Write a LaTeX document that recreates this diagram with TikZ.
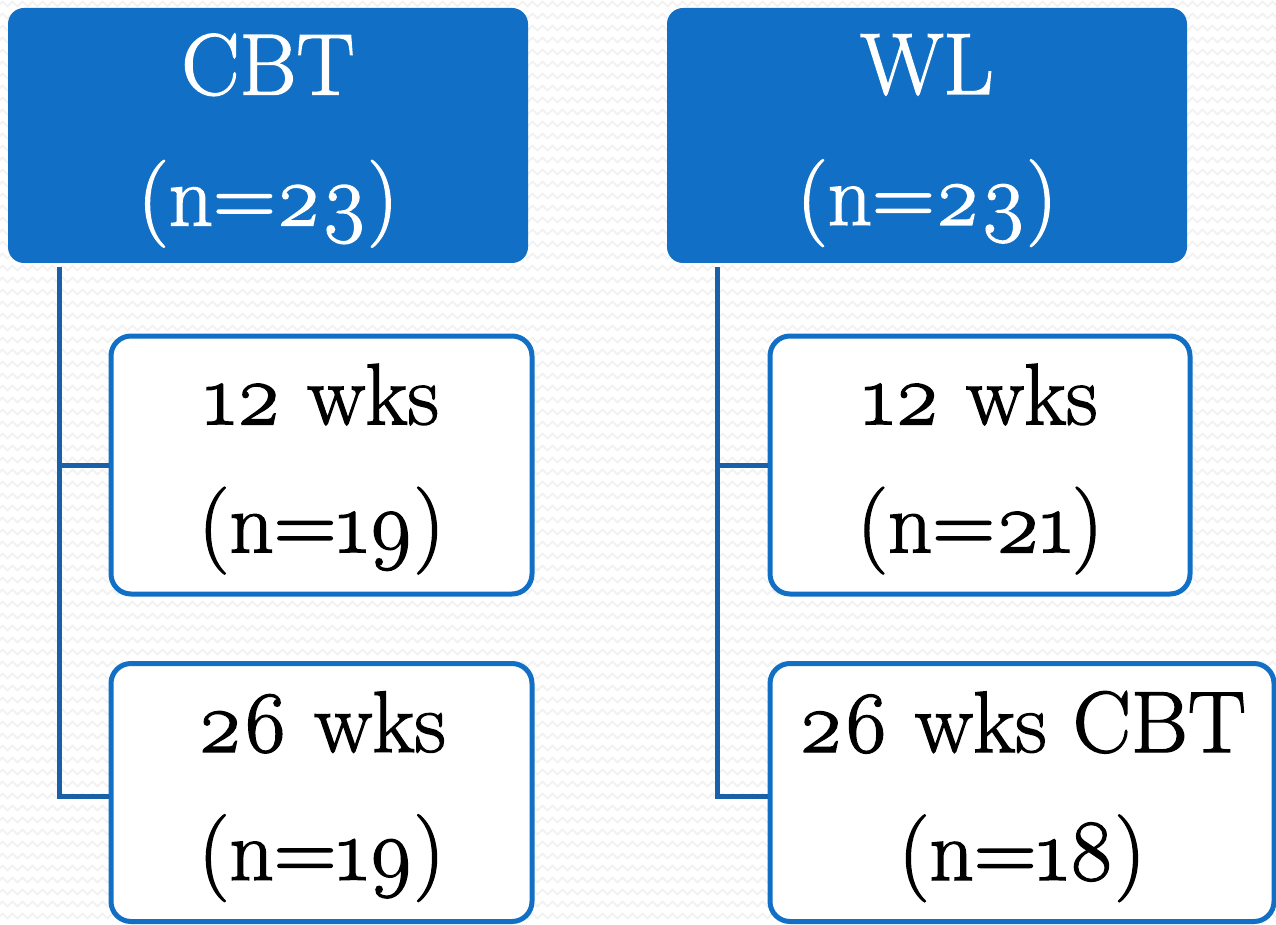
\documentclass[tikz,border=0pt]{standalone}
\usepackage{fontspec}
\setmainfont{Latin Modern Roman}[Numbers=OldStyle]
\newfontfamily\boxfont{Latin Modern Roman}[Numbers=OldStyle, FakeBold=1.6]
\usetikzlibrary{decorations.pathmorphing}
\definecolor{boxblue}{HTML}{1170C5}
\definecolor{linkblue}{HTML}{1A60A8}
\definecolor{bgline}{HTML}{F1F1F1}
\tikzset{
  headbox/.style={draw=none, fill=boxblue, rounded corners=16pt,
    minimum width=520pt, minimum height=255pt, inner sep=0pt,
    label={[text=white, align=center, yshift=-5pt, font=\boxfont\fontsize{87}{131}\selectfont]center:{#1}}},
  childbox/.style={draw=boxblue, line width=5pt, fill=white, rounded corners=20pt,
    minimum height=258pt, inner sep=0pt,
    label={[text=black, align=center, yshift=-4pt, font=\boxfont\fontsize{87}{128}\selectfont]center:{#1}}},
  conn/.style={draw=linkblue, line width=5pt}
}
\begin{document}
\begin{tikzpicture}[x=1pt,y=-1pt]
\useasboundingbox (0,0) rectangle (1276,925);
\fill[white] (0,0) rectangle (1276,925);
\begin{scope}
\clip (0,0) rectangle (1276,925);
\foreach \yy in {4,16,...,928}{
  \draw[bgline, line width=1.6pt, decorate, decoration={zigzag, segment length=10pt, amplitude=2.5pt}] (-10,\yy) -- (1290,\yy);
}
\end{scope}
\node[headbox={CBT\\(n=23)}] (cbt) at (268,135.5) {};
\node[headbox={WL\\(n=23)}] (wl) at (927,135.5) {};
\node[childbox={12 wks\\(n=19)}, minimum width=421pt] (c1) at (321.5,465) {};
\node[childbox={26 wks\\(n=19)}, minimum width=421pt] (c2) at (321.5,792.5) {};
\node[childbox={12 wks\\(n=21)}, minimum width=420pt] (w1) at (980,465) {};
\node[childbox={26 wks CBT\\(n=18)}, minimum width=504pt] (w2) at (1022,792.5) {};
\coordinate (cl) at ([xshift=-209pt,yshift=-4pt]cbt.south);
\coordinate (wlc) at ([xshift=-210pt,yshift=-4pt]wl.south);
\draw[conn] (cl) |- (c1.west);
\draw[conn] (cl) |- ([yshift=-3.5pt]c2.west);
\draw[conn] (wlc) |- (w1.west);
\draw[conn] (wlc) |- ([yshift=-3.5pt]w2.west);
\end{tikzpicture}
\end{document}
